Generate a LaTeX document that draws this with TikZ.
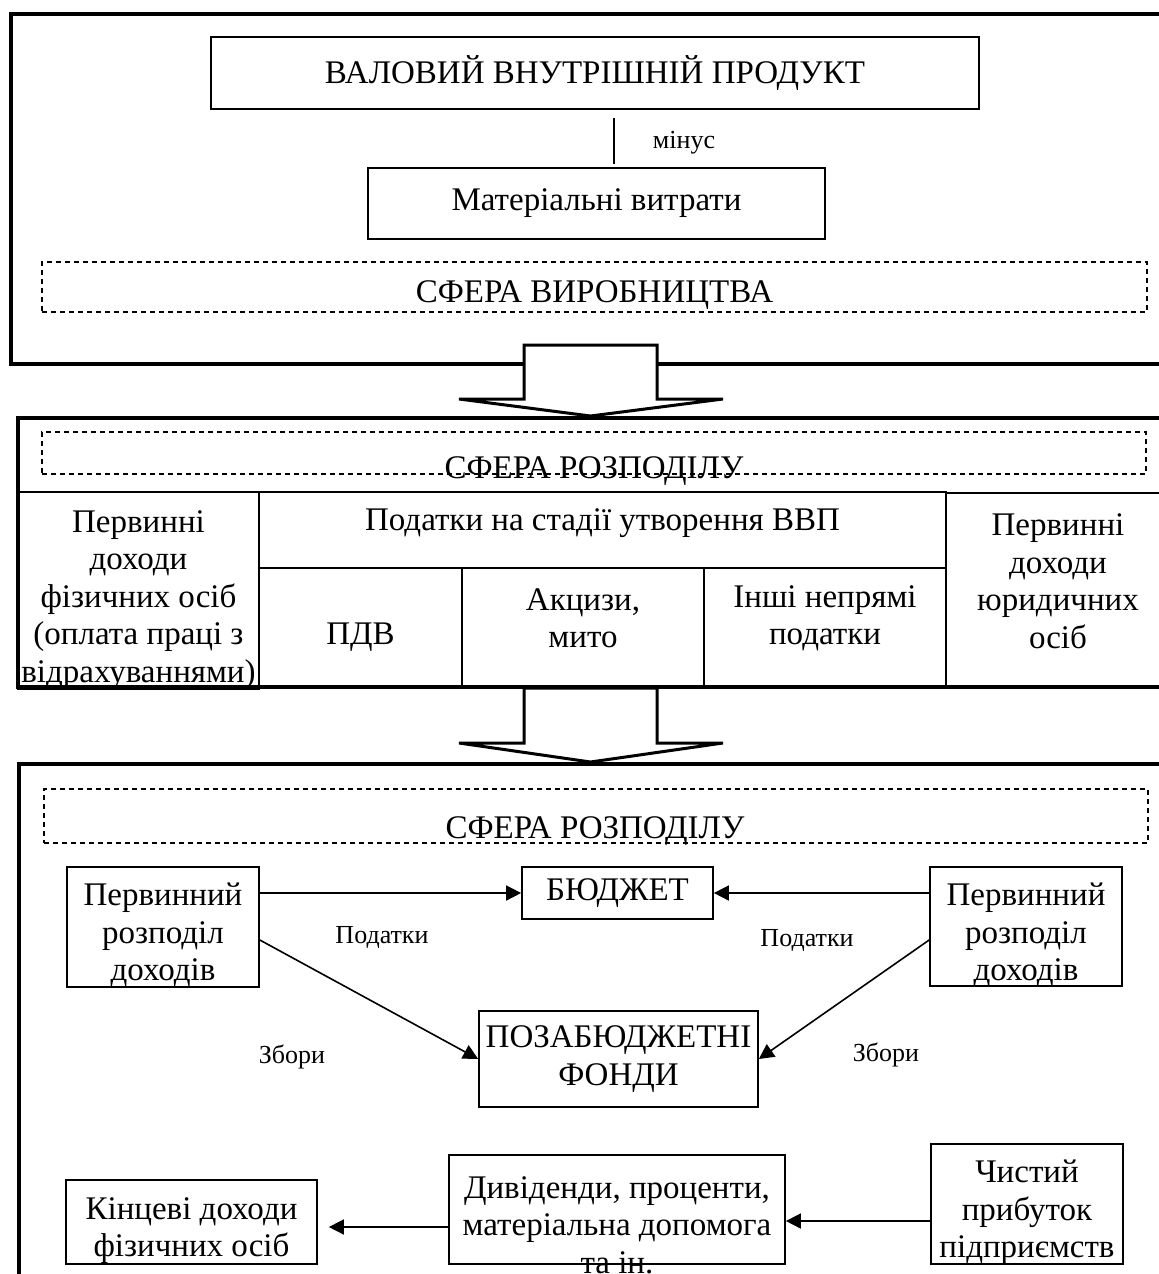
\documentclass[tikz,border=0pt]{standalone}
\usepackage{fontspec}
\setmainfont{Liberation Serif}
\usetikzlibrary{positioning,arrows.meta}
\newcommand\boxfont{\fontsize{16.5pt}{18.75pt}\selectfont}
\newcommand\lblfont{\fontsize{13pt}{15pt}\selectfont}

\begin{document}
\begin{tikzpicture}[
    x=0.5pt, y=-0.5pt,
    frame/.style={
        line width=2pt
    },
    box/.style={
        draw,
        line width=0.85pt,
        inner sep=0pt,
        align=center,
        font=\boxfont
    },
    zone/.style={
        draw,
        dash pattern=on 2.5pt off 2pt,
        line width=0.75pt,
        inner sep=0pt
    },
    cell/.style={
        draw,
        line width=0.9pt,
        inner sep=0pt
    },
    txt/.style={
        align=center,
        font=\boxfont,
        inner sep=0pt
    },
    lbl/.style={
        font=\lblfont,
        inner sep=0pt
    },
    arr/.style={
        -{Triangle[length=7.5pt,width=7.5pt]},
        line width=0.8pt
    },
    bigarrow/.style={
        draw,
        fill=white,
        line width=1.5pt
    }
]
\useasboundingbox (0,0) rectangle (1159,1274);

% production sphere
\draw[frame] (11,14) rectangle (1180,364);

\node[box, minimum width=384pt, minimum height=36pt] (gdp) at (595,73) {ВАЛОВИЙ ВНУТРІШНІЙ ПРОДУКТ};

\node[box, minimum width=228.5pt, minimum height=35.5pt] (costs) at (596.5,203.5) {Матеріальні витрати};

\draw[line width=0.85pt] ([xshift=9.5pt,yshift=-4pt]gdp.south) -- ([xshift=8.75pt,yshift=1.5pt]costs.north);
\node[lbl] (minus) at (684,143) {мінус};

\node[zone, minimum width=552.5pt, minimum height=25pt] (prod) at (594.5,287) {};
\node[txt, anchor=base] (prodtxt) at (594.5,302) {СФЕРА ВИРОБНИЦТВА};

% block arrows
\draw[bigarrow] (524,345) -- (657,345) -- (657,399) -- (723,399) -- (590.5,416) -- (459,399) -- (524,399) -- cycle;
\draw[bigarrow] (524,688) -- (657,688) -- (657,743) -- (723,743) -- (590.5,762) -- (459,743) -- (524,743) -- cycle;

% distribution sphere, table
\draw[frame] (18,418) rectangle (1180,687);

\node[zone, minimum width=552pt, minimum height=21pt] (dist1) at (594,453) {};
\node[txt, anchor=base] (dist1txt) at (594,478) {СФЕРА РОЗПОДІЛУ};

\node[cell, minimum width=120.5pt, minimum height=98.5pt] (fiz) at (138.5,590.5) {};
\node[txt] at ([yshift=-4.75pt]fiz.center) {Первинні\\доходи\\фізичних осіб\\(оплата праці з\\відрахуваннями)};

\node[cell, minimum width=343.5pt, minimum height=38pt] (tax) at (602.5,530) {};
\node[txt] at ([yshift=3.5pt]tax.center) {Податки на стадії утворення ВВП};

\node[cell, minimum width=101.5pt, minimum height=59.5pt] (pdv) at (360.5,627.5) {};
\node[txt] at ([yshift=-4.75pt]pdv.center) {ПДВ};

\node[cell, minimum width=121pt, minimum height=59.5pt] (excise) at (583,627.5) {};
\node[txt] at ([yshift=4.5pt]excise.center) {Акцизи,\\мито};

\node[cell, minimum width=121pt, minimum height=59.5pt] (other) at (825,627.5) {};
\node[txt] at ([yshift=4.5pt]other.center) {Інші непрямі\\податки};

\node[cell, minimum width=112pt, minimum height=97pt] (jur) at (1058,590) {};
\node[txt] at ([yshift=4.5pt]jur.center) {Первинні\\доходи\\юридичних\\осіб};

% distribution sphere, flows
\draw[frame] (19,764) rectangle (1180,1290);

\node[zone, minimum width=552pt, minimum height=27pt] (dist2) at (596,816) {};
\node[txt, anchor=base] (dist2txt) at (595,838) {СФЕРА РОЗПОДІЛУ};

\node[box, minimum width=96pt, minimum height=60pt] (lpr) at (163,927) {};
\node[txt] at ([yshift=-4pt]lpr.center) {Первинний\\розподіл\\доходів};

\node[box, minimum width=95.5pt, minimum height=26pt] (budget) at (617.5,893) {БЮДЖЕТ};

\node[box, minimum width=96pt, minimum height=59.5pt] (rpr) at (1026,926.5) {};
\node[txt] at ([yshift=-4.25pt]rpr.center) {Первинний\\розподіл\\доходів};

\node[box, minimum width=139.5pt, minimum height=48pt] (pozab) at (618.5,1059) {ПОЗАБЮДЖЕТНІ\\ФОНДИ};

\node[box, minimum width=125.5pt, minimum height=42pt] (final) at (191.5,1222) {};
\node[txt] at ([yshift=-4.25pt]final.center) {Кінцеві доходи\\фізичних осіб};

\node[box, minimum width=168pt, minimum height=54.5pt] (divid) at (617,1209.5) {};
\node[txt] at ([yshift=-7.75pt]divid.center) {Дивіденди, проценти,\\матеріальна допомога\\та ін.};

\node[box, minimum width=96pt, minimum height=60pt] (profit) at (1027,1204) {};
\node[txt] at ([yshift=-4.25pt]profit.center) {Чистий\\прибуток\\підприємств};

\draw[arr] (lpr.east |- budget.west) -- (budget.west);
\draw[arr] (rpr.west |- budget.east) -- (budget.east);
\draw[arr] ([yshift=-6.5pt]lpr.east) -- (pozab.west);
\draw[arr] ([yshift=-6.75pt]rpr.west) -- (pozab.east);
\draw[arr] ([yshift=-8.5pt]profit.west) -- ([yshift=-8.5pt]profit.west -| divid.east);
\draw[arr, shorten >=5.5pt] ([yshift=-8.75pt]divid.west) -- ([yshift=-8.75pt]divid.west -| final.east);

\node[lbl] (taxl) at (382,937) {Податки};
\node[lbl] (taxr) at (807,940) {Податки};
\node[lbl] (feel) at (292,1057) {Збори};
\node[lbl] (feer) at (886,1055) {Збори};

\end{tikzpicture}
\end{document}
